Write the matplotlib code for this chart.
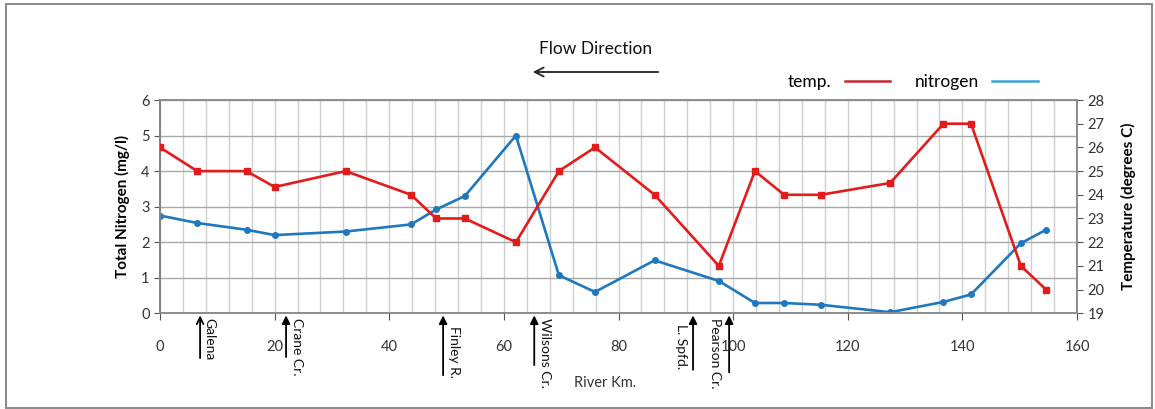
import matplotlib
matplotlib.use('Agg')
import matplotlib.pyplot as plt
from matplotlib.lines import Line2D
from matplotlib.patches import Rectangle

plt.rcParams['font.family'] = ['Lato', 'DejaVu Sans']

# river km of the sampling sites
river_km = [0, 6.5, 15.1, 20, 32.4, 43.8, 48.2, 53.2, 62.1, 69.6, 75.9,
            86.3, 97.5, 103.8, 108.9, 115.3, 127.4, 136.7, 141.5, 150.2, 154.6]
nitrogen = [2.75, 2.54, 2.35, 2.2, 2.3, 2.5, 2.92, 3.3, 5.0, 1.07, 0.6,
            1.49, 0.91, 0.29, 0.29, 0.24, 0.03, 0.32, 0.53, 1.97, 2.35]
temperature = [26, 25, 25, 24.33, 25, 24, 23, 23, 22, 25, 26,
               24, 21, 25, 24, 24, 24.5, 27, 27, 21, 20]

# tributaries (name, river km)
trib_names = ['Galena', 'Crane Cr.', 'Finley R.', 'Wilsons Cr.', 'L. Spfd.', 'Pearson Cr.']
trib_km = [7.0, 22.0, 49.4, 65.3, 93.0, 99.3]

red = '#E31B1B'
blue = '#1F78BE'
grid_col = '#A8A8A8'

fig = plt.figure(figsize=(11.55, 4.09), dpi=100)
fig.patches.append(Rectangle((0.005, 0.003), 0.992, 0.987, transform=fig.transFigure,
                             fill=False, edgecolor='#8C8C8C', linewidth=1.5))

ax = fig.add_axes([0.1385, 0.234, 0.794, 0.5215])
ax2 = ax.twinx()

ax.plot(river_km, nitrogen, color=blue, lw=1.9, marker='o', ms=4, zorder=3)
ax2.plot(river_km, temperature, color=red, lw=1.9, marker='s', ms=5, zorder=3)

ax.set_xlim(0, 160)
ax.set_ylim(0, 6)
ax2.set_ylim(19, 28)
ax.set_xticks(range(0, 161, 20))
ax.set_xticks(range(0, 161, 4), minor=True)
ax.set_yticks(range(0, 7))
ax2.set_yticks(range(19, 29))

ax.grid(True, axis='y', color=grid_col, lw=1.0)
ax.grid(True, axis='x', which='both', color='#CFCFCF', lw=1.0)
ax.set_axisbelow(True)

ax.tick_params(axis='x', which='major', direction='out', length=5, color='#555555',
               labelsize=10.5, labelcolor='#333333', pad=14)
ax.tick_params(axis='x', which='minor', length=0)
ax.tick_params(axis='y', direction='out', length=4, color='#555555',
               labelsize=10.5, labelcolor='#333333')
ax2.tick_params(axis='y', direction='out', length=4, color='#555555',
                labelsize=10.5, labelcolor='#333333')
for a in (ax, ax2):
    for s in a.spines.values():
        s.set_color('#8C8C8C')
        s.set_linewidth(1.2)
ax.spines['left'].set_color('#444444')

ax.set_ylabel('Total Nitrogen (mg/l)', fontsize=11, fontweight='bold', labelpad=8)
ax2.set_ylabel('Temperature (degrees C)', fontsize=11, fontweight='bold', labelpad=12)

ax.text(0.485, -0.327, 'River Km.', transform=ax.transAxes, fontsize=10.5,
        color='#333333', ha='center', va='center')

# tributary arrows below the axis
tails = [0.21, 0.205, 0.29, 0.243, 0.265, 0.277]
text_dx = [1.7, 1.9, 1.9, 1.9, -2.1, -2.4]
text_top = [-0.02, -0.02, -0.06, -0.02, -0.05, -0.02]
trans = ax.get_xaxis_transform()
for i in range(len(trib_names)):
    style = '->' if i == 0 else '-|>'
    ax.annotate('', xy=(trib_km[i], -0.01), xytext=(trib_km[i], -tails[i]),
                xycoords=trans, textcoords=trans, annotation_clip=False,
                arrowprops=dict(arrowstyle=style, color='black', lw=1.3,
                                mutation_scale=12, shrinkA=0, shrinkB=0))
    ax.text(trib_km[i] + text_dx[i], text_top[i], trib_names[i], transform=trans,
            rotation=270, ha='center', va='top', fontsize=10, color='#111111')

# flow direction
fig.text(596 / 1155, 0.88, 'Flow Direction', fontsize=12.5, ha='center', va='center', color='#111111')
fig.patches.append(matplotlib.patches.FancyArrowPatch(
    (661 / 1155, 1 - 72 / 409), (530 / 1155, 1 - 72 / 409), transform=fig.transFigure,
    arrowstyle='->', mutation_scale=16, color='#222222', lw=1.3))

handles = [Line2D([], [], color='#C8282D', lw=1.8), Line2D([], [], color='#3DA2DA', lw=1.8)]
fig.legend(handles, ['temp.', 'nitrogen'], ncol=2, markerfirst=False, frameon=False,
           fontsize=12.5, loc='center', bbox_to_anchor=(0.79, 0.8), handlelength=2.6,
           columnspacing=1.4, handletextpad=0.8)

plt.savefig('out.png', dpi=100)
